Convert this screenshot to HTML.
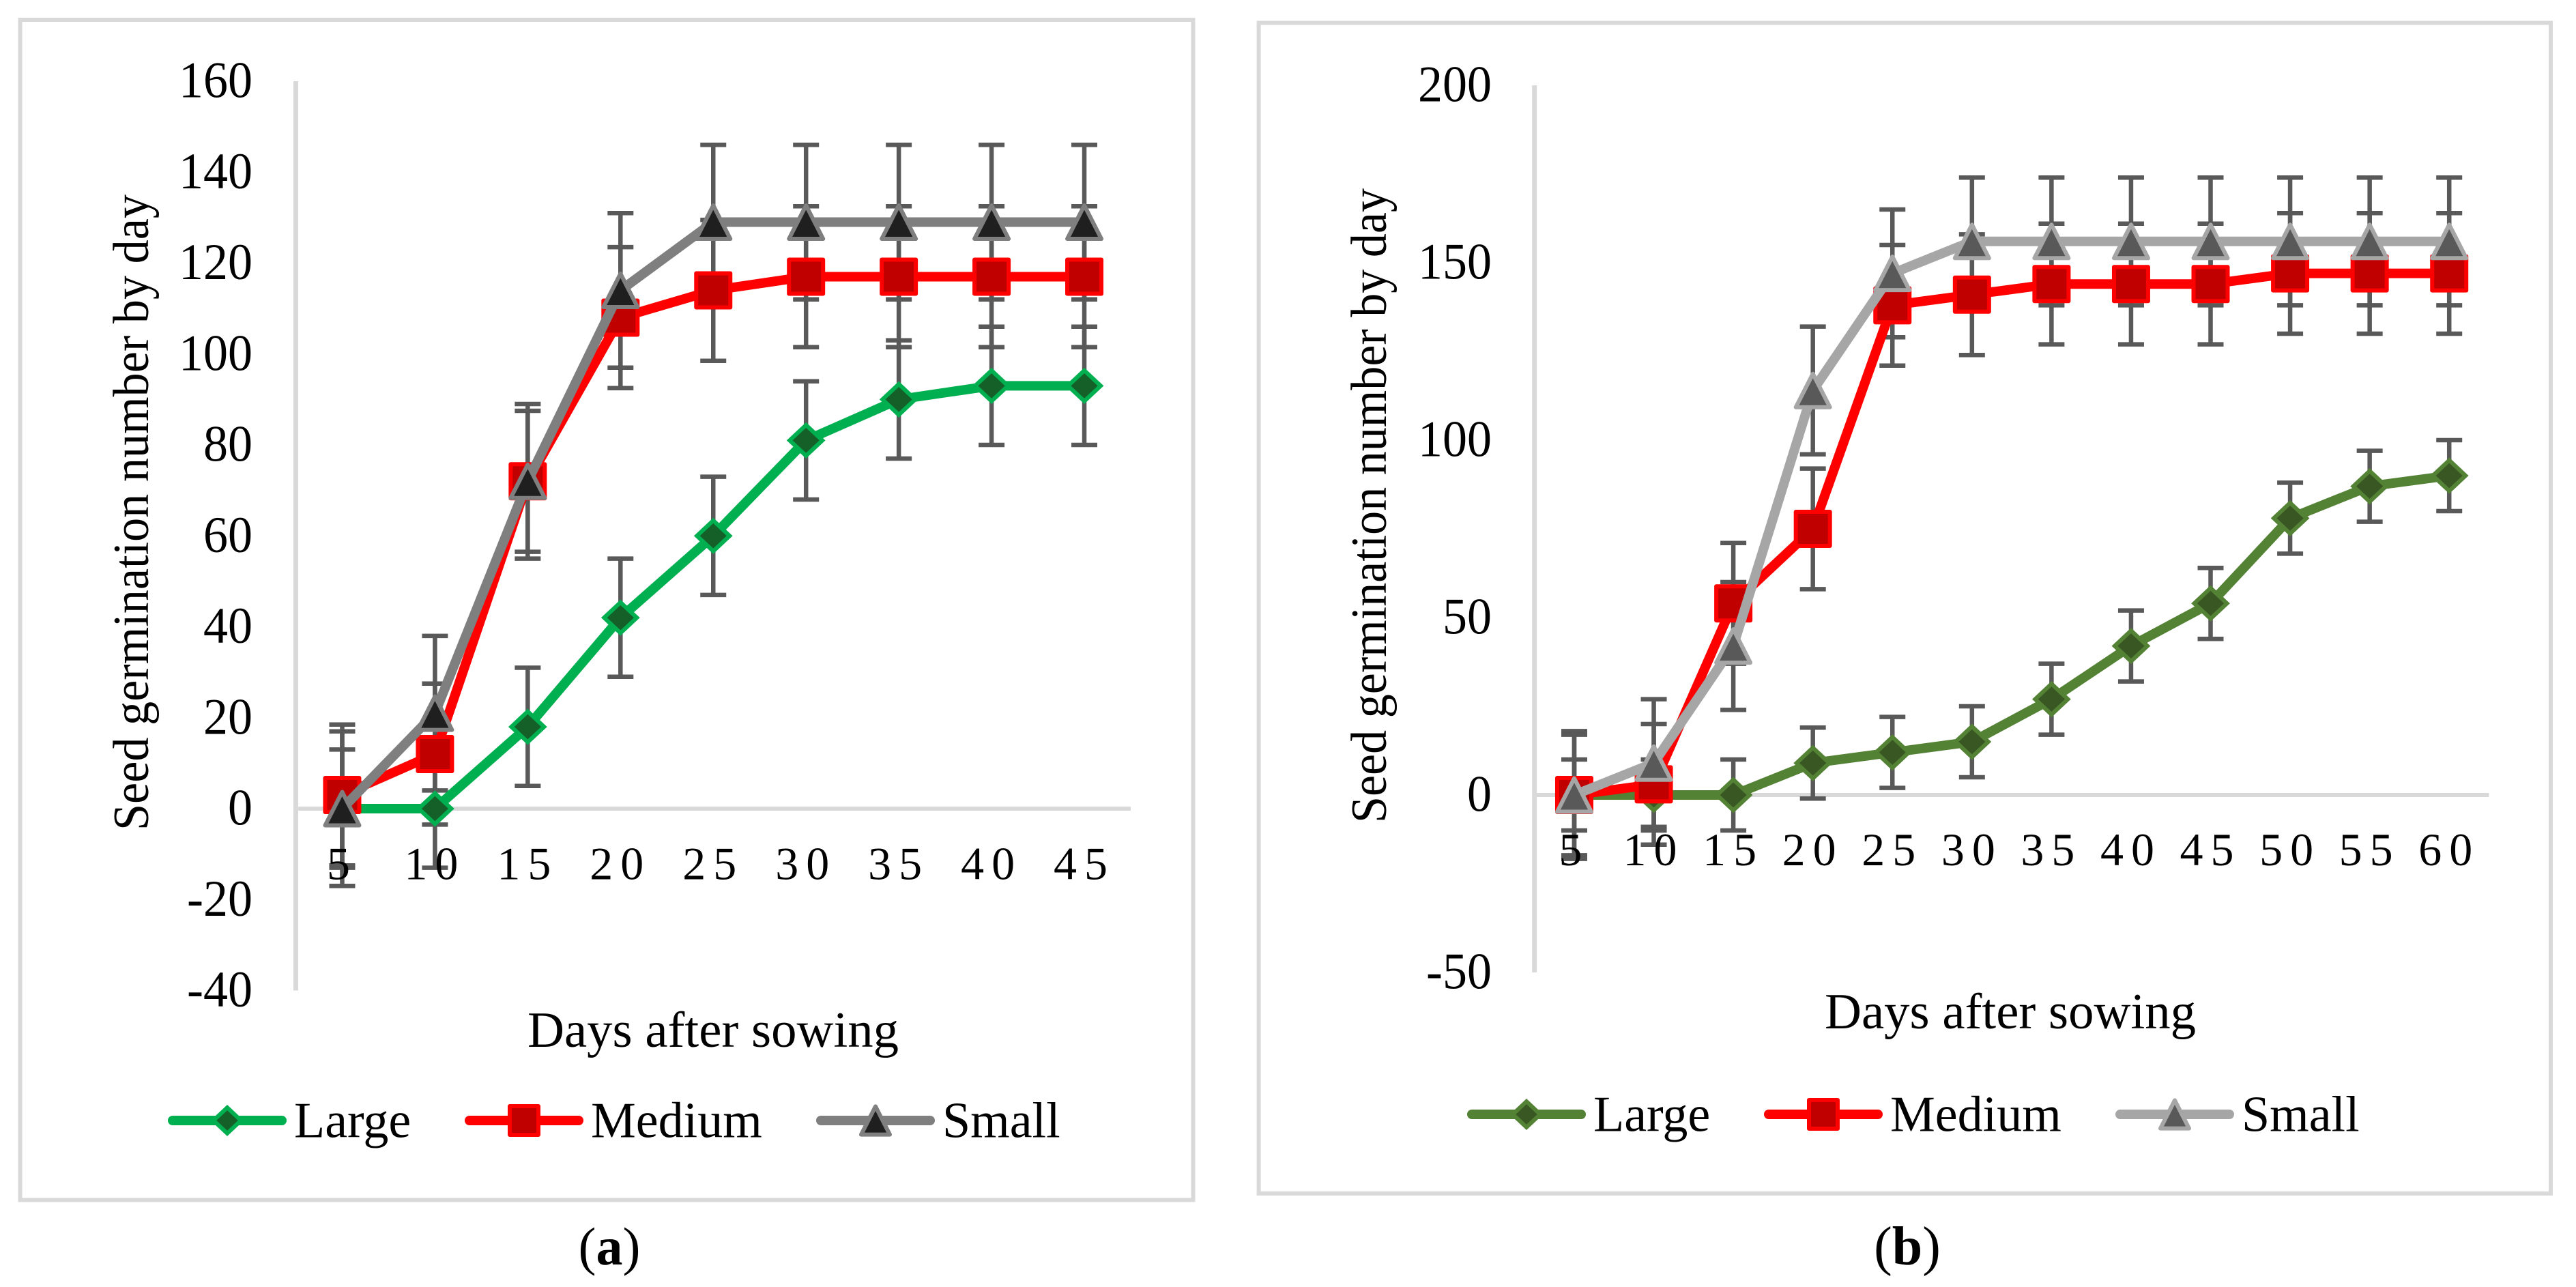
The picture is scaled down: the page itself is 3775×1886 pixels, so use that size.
<!DOCTYPE html>
<html lang="en">
<head>
<meta charset="utf-8">
<title>Seed germination number by day</title>
<style>
html,body{margin:0;padding:0;background:#fff;}
svg{display:block;}
text{font-family:"Liberation Serif",serif;fill:#000;}
</style>
</head>
<body>
<svg id="figure" xmlns="http://www.w3.org/2000/svg" width="3775" height="1886" viewBox="0 0 3775 1886">
  <rect x="0" y="0" width="3775" height="1886" fill="#fff"/>
  <rect x="29.5" y="29" width="1719" height="1729.5" fill="#fff" stroke="#d9d9d9" stroke-width="6"/>
  <rect x="1844.6" y="33.5" width="1893.4" height="1715.5" fill="#fff" stroke="#d9d9d9" stroke-width="6"/>
  <text transform="translate(217,1217) rotate(-90)" font-size="74" textLength="932" lengthAdjust="spacingAndGlyphs">Seed germination number by day</text>
  <text transform="translate(2031,1206) rotate(-90)" font-size="74" textLength="930" lengthAdjust="spacingAndGlyphs">Seed germination number by day</text>
  <text x="1045" y="1534" font-size="74" text-anchor="middle" textLength="544" lengthAdjust="spacingAndGlyphs">Days after sowing</text>
  <text x="2946" y="1507" font-size="74" text-anchor="middle" textLength="544" lengthAdjust="spacingAndGlyphs">Days after sowing</text>
  <text x="893" y="1853" font-size="78" text-anchor="middle">(<tspan font-weight="bold">a</tspan>)</text>
  <text x="2795" y="1853" font-size="80" text-anchor="middle">(<tspan font-weight="bold">b</tspan>)</text>
  <g id="chart-a"></g>
  <g id="chart-b"></g>
</svg>
<script>
/* ---------- Chart (a) data ---------- */
const aDays = [5, 10, 15, 20, 25, 30, 35, 40, 45];
const aYTicks = [160, 140, 120, 100, 80, 60, 40, 20, 0, -20, -40];
const aLarge = [0, 0, 18, 42, 60, 81, 90, 93, 93];
const aMedium = [3, 12, 72, 108, 114, 117, 117, 117, 117];
const aSmall = [0, 21, 72, 114, 129, 129, 129, 129, 129];
const aLargeErr = [13, 13, 13, 13, 13, 13, 13, 13, 13];
const aMediumErr = [15.5, 15.5, 15.5, 15.5, 15.5, 15.5, 15.5, 15.5, 15.5];
const aSmallErr = [17, 17, 17, 17, 17, 17, 17, 17, 17];

/* ---------- Chart (b) data ---------- */
const bDays = [5, 10, 15, 20, 25, 30, 35, 40, 45, 50, 55, 60];
const bYTicks = [200, 150, 100, 50, 0, -50];
const bLarge = [0, 0, 0, 9, 12, 15, 27, 42, 54, 78, 87, 90];
const bMedium = [0, 3, 54, 75, 138, 141, 144, 144, 144, 147, 147, 147];
const bSmall = [0, 9, 42, 114, 147, 156, 156, 156, 156, 156, 156, 156];
const bLargeErr = [10, 10, 10, 10, 10, 10, 10, 10, 10, 10, 10, 10];
const bMediumErr = [17, 17, 17, 17, 17, 17, 17, 17, 17, 17, 17, 17];
const bSmallErr = [18, 18, 18, 18, 18, 18, 18, 18, 18, 18, 18, 18];

const NS = 'http://www.w3.org/2000/svg';

function make(parent, tag, attrs, text) {
  const el = document.createElementNS(NS, tag);
  for (const k in attrs) el.setAttribute(k, attrs[k]);
  if (text !== undefined) el.textContent = text;
  parent.appendChild(el);
  return el;
}

function drawMarker(parent, shape, cx, cy, fill, stroke, scale) {
  const s = scale;
  let el;
  if (shape === 'diamond') {
    const pts = [[cx, cy - 22.5 * s], [cx + 24 * s, cy], [cx, cy + 22.5 * s], [cx - 24 * s, cy]];
    el = make(parent, 'polygon', {points: pts.map(p => p.join(',')).join(' '), fill: fill, stroke: stroke, 'stroke-width': 6, 'stroke-linejoin': 'miter'});
  } else if (shape === 'square') {
    el = make(parent, 'rect', {x: cx - 25 * s, y: cy - 25 * s, width: 50 * s, height: 50 * s, fill: fill, stroke: stroke, 'stroke-width': 6, 'stroke-linejoin': 'round'});
  } else {
    const pts = [[cx, cy - 24.5 * s], [cx + 25 * s, cy + 24.5 * s], [cx - 25 * s, cy + 24.5 * s]];
    el = make(parent, 'polygon', {points: pts.map(p => p.join(',')).join(' '), fill: fill, stroke: stroke, 'stroke-width': 6, 'stroke-linejoin': 'round'});
  }
  return el;
}

function drawChart(id, prefix, days, yTicks, series, frame) {
  const root = document.getElementById(id);
  const yMax = Math.max.apply(null, yTicks);
  const yMin = Math.min.apply(null, yTicks);
  const xScale = i => frame.left + (i + 0.5) * (frame.right - frame.left) / days.length;
  const yScale = v => frame.top + (yMax - v) * (frame.bottom - frame.top) / (yMax - yMin);

  const yAxis = make(root, 'line', {x1: frame.left, x2: frame.left, y1: frame.top, y2: frame.bottom, stroke: '#d9d9d9', 'stroke-width': 7});
  
  
  const xAxis = make(root, 'line', {x1: frame.left, x2: frame.right, y1: yScale(0), y2: yScale(0), stroke: '#d9d9d9', 'stroke-width': 6});
  
  

  yTicks.forEach(function (t) {
    const label = make(root, 'text', {transform: 'translate(' + frame.yLabelX + ',' + (yScale(t) + frame.yLabelDy) + ') scale(0.96,1)', 'font-size': 75, 'text-anchor': 'end'}, String(t));
    
    
  });

  series.forEach(function (s) {
    days.forEach(function (d, i) {
      const hi = yScale(s.values[i] + s.errors[i]);
      const lo = yScale(s.values[i] - s.errors[i]);
      const x = xScale(i);
      const bar = make(root, 'path', {d: 'M' + x + ' ' + hi + 'V' + lo + 'M' + (x - 19) + ' ' + hi + 'H' + (x + 19) + 'M' + (x - 19) + ' ' + lo + 'H' + (x + 19), stroke: '#595959', 'stroke-width': 6.5, fill: 'none'});
      
      
    });
  });

  days.forEach(function (d, i) {
    const label = make(root, 'text', {x: xScale(i), y: frame.xLabelY, 'font-size': 68, 'letter-spacing': 11, 'text-anchor': 'middle'}, String(d));
    
    
  });

  series.forEach(function (s) {
    const pts = s.values.map((v, i) => xScale(i) + ',' + yScale(v)).join(' ');
    const line = make(root, 'polyline', {points: pts, fill: 'none', stroke: s.color, 'stroke-width': 14, 'stroke-linejoin': 'round', 'stroke-linecap': 'round'});
    
    
    s.values.forEach(function (v, i) {
      const m = drawMarker(root, s.shape, xScale(i), yScale(v), s.fill, s.color, 1);
      
      
    });
  });

  series.forEach(function (s, k) {
    const x = frame.legendX[k];
    const y = frame.legendY;
    const g = make(root, 'g', {});
    
    
    const key = make(g, 'line', {x1: x + 7, x2: x + 167, y1: y, y2: y, stroke: s.color, 'stroke-width': 14, 'stroke-linecap': 'round'});
    
    
    const mark = drawMarker(g, s.shape, x + 87, y, s.fill, s.color, 0.84);
    
    
    const txt = make(g, 'text', {x: x + 185, y: y + 24.5, 'font-size': 74}, s.name);
    
    
  });
}

drawChart('chart-a', 'chart-a', aDays, aYTicks, [
  {name: 'Large', values: aLarge, errors: aLargeErr, color: '#00b050', fill: '#156029', shape: 'diamond'},
  {name: 'Medium', values: aMedium, errors: aMediumErr, color: '#ff0000', fill: '#c00000', shape: 'square'},
  {name: 'Small', values: aSmall, errors: aSmallErr, color: '#7f7f7f', fill: '#1f1f1f', shape: 'triangle'}
], {left: 433.5, right: 1657, top: 119, bottom: 1451.5, yLabelX: 370, yLabelDy: 23.5, xLabelY: 1288.5, legendX: [246, 681, 1196], legendY: 1642});

drawChart('chart-b', 'chart-b', bDays, bYTicks, [
  {name: 'Large', values: bLarge, errors: bLargeErr, color: '#548235', fill: '#385723', shape: 'diamond'},
  {name: 'Medium', values: bMedium, errors: bMediumErr, color: '#ff0000', fill: '#c00000', shape: 'square'},
  {name: 'Small', values: bSmall, errors: bSmallErr, color: '#a6a6a6', fill: '#595959', shape: 'triangle'}
], {left: 2248.7, right: 3647.5, top: 125, bottom: 1425, yLabelX: 2186, yLabelDy: 23.5, xLabelY: 1268, legendX: [2150, 2585, 3100], legendY: 1633});
</script>
</body>
</html>
